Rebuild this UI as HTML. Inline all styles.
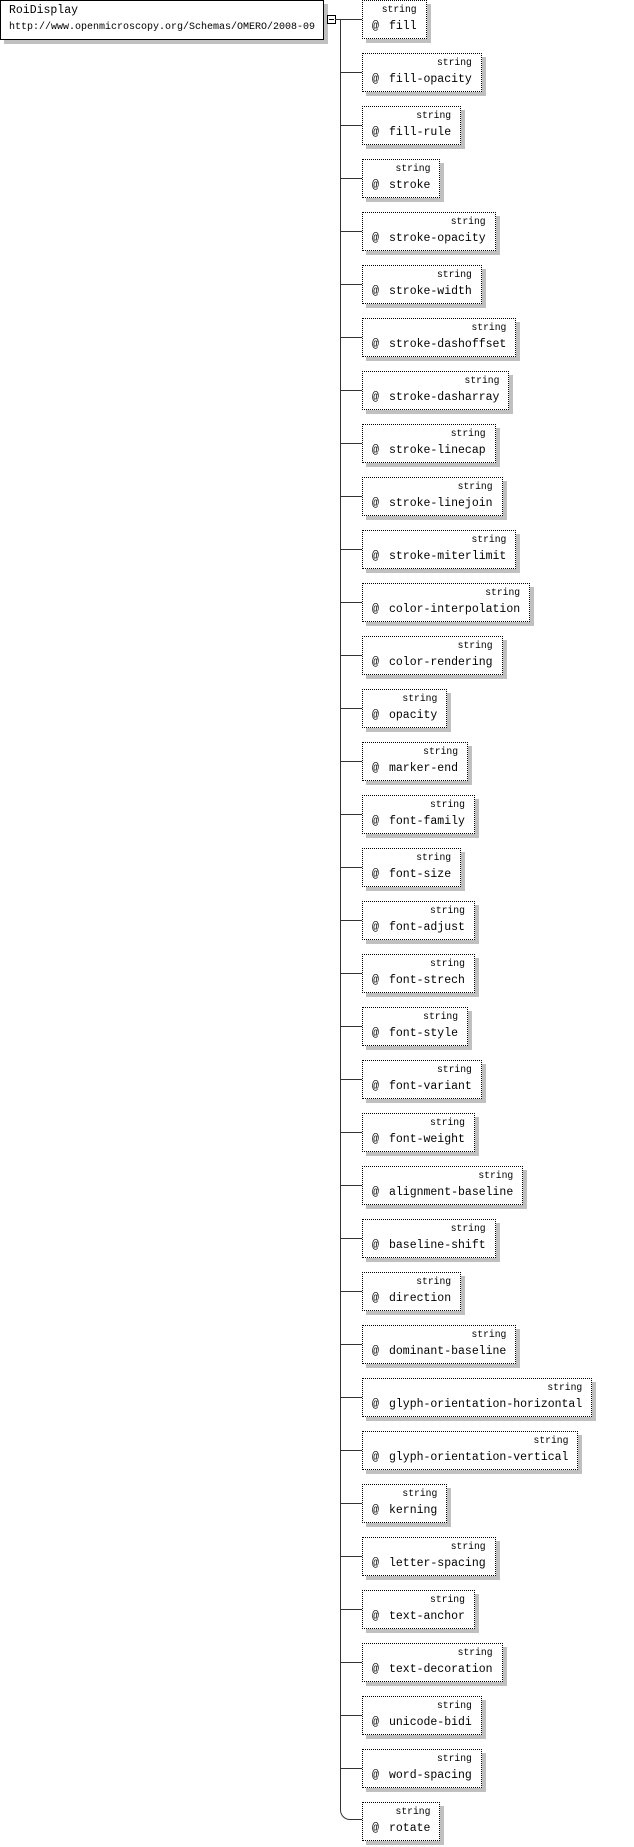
<!DOCTYPE html>
<html><head><meta charset="utf-8"><style>
body{margin:0;width:634px;height:1847px;background:#fff;position:relative;overflow:hidden;font-family:"Liberation Mono",monospace;color:#000}
.root{position:absolute;left:0;top:0;width:322px;height:38px;border:1px solid #000;background:#fff;box-shadow:4px 4px 0 #c0c0c0}
.root .t{position:absolute;left:8px;top:3px;font-size:11.5px}
.root .u{position:absolute;left:8px;top:21px;font-size:10px}
.minus{position:absolute;left:327px;top:15px;width:7px;height:7px;border:1px solid #000;background:#fff}
.minus:after{content:"";position:absolute;left:1px;top:3px;width:5px;height:1px;background:#000}
.v{position:absolute;left:340px;top:19px;width:1px;height:1791px;background:#333}
.h{position:absolute;left:340px;width:22px;height:1px;background:#333}
.curve{position:absolute;left:340px;top:1805px;width:21px;height:14px;border-left:1px solid #333;border-bottom:1px solid #333;border-bottom-left-radius:10px}
.b{position:absolute;left:362px;height:37px;border:1px dotted #000;background:#fff;box-shadow:4px 4px 0 #c0c0c0;padding:0 9px 0 9px;white-space:nowrap}
.b .s{text-align:right;font-size:9.7px;height:17px;line-height:17px;padding-top:0}
.b .n{font-size:11.5px;line-height:18px}
.b .n span{display:inline-block;width:17px}
</style></head><body>
<div class="root"><div class="t">RoiDisplay</div><div class="u">http://www.openmicroscopy.org/Schemas/OMERO/2008-09</div></div>
<div class="minus"></div>
<div style="position:absolute;left:335px;top:19px;width:5px;height:1px;background:#333"></div>
<div class="v"></div>
<div class="curve"></div>

<div class="h" style="top:19px"></div><div class="b" style="top:0px"><div class="s">string</div><div class="n"><span>@</span>fill</div></div>
<div class="h" style="top:72px"></div><div class="b" style="top:53px"><div class="s">string</div><div class="n"><span>@</span>fill-opacity</div></div>
<div class="h" style="top:125px"></div><div class="b" style="top:106px"><div class="s">string</div><div class="n"><span>@</span>fill-rule</div></div>
<div class="h" style="top:178px"></div><div class="b" style="top:159px"><div class="s">string</div><div class="n"><span>@</span>stroke</div></div>
<div class="h" style="top:231px"></div><div class="b" style="top:212px"><div class="s">string</div><div class="n"><span>@</span>stroke-opacity</div></div>
<div class="h" style="top:284px"></div><div class="b" style="top:265px"><div class="s">string</div><div class="n"><span>@</span>stroke-width</div></div>
<div class="h" style="top:337px"></div><div class="b" style="top:318px"><div class="s">string</div><div class="n"><span>@</span>stroke-dashoffset</div></div>
<div class="h" style="top:390px"></div><div class="b" style="top:371px"><div class="s">string</div><div class="n"><span>@</span>stroke-dasharray</div></div>
<div class="h" style="top:443px"></div><div class="b" style="top:424px"><div class="s">string</div><div class="n"><span>@</span>stroke-linecap</div></div>
<div class="h" style="top:496px"></div><div class="b" style="top:477px"><div class="s">string</div><div class="n"><span>@</span>stroke-linejoin</div></div>
<div class="h" style="top:549px"></div><div class="b" style="top:530px"><div class="s">string</div><div class="n"><span>@</span>stroke-miterlimit</div></div>
<div class="h" style="top:602px"></div><div class="b" style="top:583px"><div class="s">string</div><div class="n"><span>@</span>color-interpolation</div></div>
<div class="h" style="top:655px"></div><div class="b" style="top:636px"><div class="s">string</div><div class="n"><span>@</span>color-rendering</div></div>
<div class="h" style="top:708px"></div><div class="b" style="top:689px"><div class="s">string</div><div class="n"><span>@</span>opacity</div></div>
<div class="h" style="top:761px"></div><div class="b" style="top:742px"><div class="s">string</div><div class="n"><span>@</span>marker-end</div></div>
<div class="h" style="top:814px"></div><div class="b" style="top:795px"><div class="s">string</div><div class="n"><span>@</span>font-family</div></div>
<div class="h" style="top:867px"></div><div class="b" style="top:848px"><div class="s">string</div><div class="n"><span>@</span>font-size</div></div>
<div class="h" style="top:920px"></div><div class="b" style="top:901px"><div class="s">string</div><div class="n"><span>@</span>font-adjust</div></div>
<div class="h" style="top:973px"></div><div class="b" style="top:954px"><div class="s">string</div><div class="n"><span>@</span>font-strech</div></div>
<div class="h" style="top:1026px"></div><div class="b" style="top:1007px"><div class="s">string</div><div class="n"><span>@</span>font-style</div></div>
<div class="h" style="top:1079px"></div><div class="b" style="top:1060px"><div class="s">string</div><div class="n"><span>@</span>font-variant</div></div>
<div class="h" style="top:1132px"></div><div class="b" style="top:1113px"><div class="s">string</div><div class="n"><span>@</span>font-weight</div></div>
<div class="h" style="top:1185px"></div><div class="b" style="top:1166px"><div class="s">string</div><div class="n"><span>@</span>alignment-baseline</div></div>
<div class="h" style="top:1238px"></div><div class="b" style="top:1219px"><div class="s">string</div><div class="n"><span>@</span>baseline-shift</div></div>
<div class="h" style="top:1291px"></div><div class="b" style="top:1272px"><div class="s">string</div><div class="n"><span>@</span>direction</div></div>
<div class="h" style="top:1344px"></div><div class="b" style="top:1325px"><div class="s">string</div><div class="n"><span>@</span>dominant-baseline</div></div>
<div class="h" style="top:1397px"></div><div class="b" style="top:1378px"><div class="s">string</div><div class="n"><span>@</span>glyph-orientation-horizontal</div></div>
<div class="h" style="top:1450px"></div><div class="b" style="top:1431px"><div class="s">string</div><div class="n"><span>@</span>glyph-orientation-vertical</div></div>
<div class="h" style="top:1503px"></div><div class="b" style="top:1484px"><div class="s">string</div><div class="n"><span>@</span>kerning</div></div>
<div class="h" style="top:1556px"></div><div class="b" style="top:1537px"><div class="s">string</div><div class="n"><span>@</span>letter-spacing</div></div>
<div class="h" style="top:1609px"></div><div class="b" style="top:1590px"><div class="s">string</div><div class="n"><span>@</span>text-anchor</div></div>
<div class="h" style="top:1662px"></div><div class="b" style="top:1643px"><div class="s">string</div><div class="n"><span>@</span>text-decoration</div></div>
<div class="h" style="top:1715px"></div><div class="b" style="top:1696px"><div class="s">string</div><div class="n"><span>@</span>unicode-bidi</div></div>
<div class="h" style="top:1768px"></div><div class="b" style="top:1749px"><div class="s">string</div><div class="n"><span>@</span>word-spacing</div></div>
<div class="b" style="top:1802px"><div class="s">string</div><div class="n"><span>@</span>rotate</div></div>
</body></html>
